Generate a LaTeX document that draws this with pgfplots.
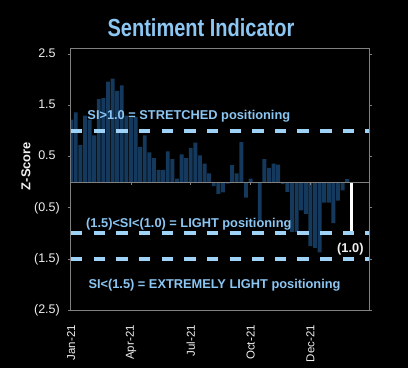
\documentclass[border=0pt]{standalone}
\usepackage{pgfplots}
\pgfplotsset{compat=1.18}
\usepackage{fontspec}
\setmainfont{Liberation Sans}
\newfontfamily\titlefont[FakeStretch=0.81]{Liberation Sans}
\definecolor{lblue}{RGB}{158,210,246}
\definecolor{tblue}{RGB}{140,198,242}
\definecolor{barblue}{RGB}{20,57,92}
\definecolor{framegray}{RGB}{128,128,128}
\definecolor{lbl}{RGB}{240,240,240}

\pgfplotstableread{
i v
0 1.22
1 1.36
2 0.72
3 1.30
4 1.22
5 0.91
6 1.62
7 1.64
8 1.96
9 2.02
10 1.78
11 1.89
12 1.30
13 1.26
14 1.27
15 0.69
16 0.91
17 0.58
18 0.47
19 0.24
20 0.24
21 0.60
22 0.45
23 0.07
24 0.54
25 0.47
26 0.67
27 0.77
28 0.52
29 0.36
30 0.17
31 -0.08
32 -0.23
33 -0.20
34 -0.03
35 0.33
36 0.17
37 0.78
38 -0.30
39 0.07
40 -0.02
41 -0.75
42 0.45
43 0.28
44 0.36
45 0.34
46 -0.04
47 -0.19
48 -0.97
49 -0.97
50 -0.55
51 -0.62
52 -1.25
53 -1.28
54 -1.37
55 -0.40
56 -0.40
57 -0.80
58 -0.36
59 -0.16
60 0.06
}\sidata

\begin{document}
\begin{tikzpicture}[x=1pt,y=1pt]
\fill[black] (0pt,0pt) rectangle (408pt,368pt);
\useasboundingbox (0pt,0pt) rectangle (408pt,368pt);
\begin{axis}[
  at={(71pt,57.7pt)}, anchor=south west,
  scale only axis, width=298pt, height=262pt,
  xmin=-0.04, xmax=64.74, ymin=-2.5, ymax=2.611,
  axis line style={framegray, line width=1pt},
  tick align=outside,
  major tick length=3pt,
  xtick={0,13,26,39,52},
  xticklabels={Jan-21,Apr-21,Jul-21,Oct-21,Dec-21},
  xtick style={draw=none},
  xticklabel style={rotate=90, anchor=east, inner sep=0pt, text=lbl, font=\fontsize{11.5}{13}\selectfont},
  xticklabel shift=11.7pt,
  ytick={-2.5,-1.5,-0.5,0.5,1.5,2.5},
  yticklabels={{(2.5)},{(1.5)},{(0.5)},{0.5\phantom{)}},{1.5\phantom{)}},{2.5\phantom{)}}},
  ytick style={framegray, line width=0.8pt},
  yticklabel style={anchor=east, inner sep=0pt, text=lbl, font=\fontsize{12.5}{14}\selectfont},
  yticklabel shift=8pt,
  /pgf/number format/assume math mode=true,
]
\addplot[ybar, bar width=0.85, fill=barblue, draw=none] table[x=i, y=v] {\sidata};
\addplot[ybar, bar width=0.6, fill=white, draw=none] coordinates {(61,-1.0)};
\draw[framegray, line width=1pt] (axis cs:-0.04,0) -- (axis cs:64.74,0);
\draw[framegray, line width=0.8pt] (axis cs:13,0) -- (axis cs:13,-0.06);
\draw[framegray, line width=0.8pt] (axis cs:26,0) -- (axis cs:26,-0.06);
\draw[framegray, line width=0.8pt] (axis cs:39,0) -- (axis cs:39,-0.06);
\draw[framegray, line width=0.8pt] (axis cs:52,0) -- (axis cs:52,-0.06);
\draw[lblue, line width=4pt, dash pattern=on 11.5pt off 11.15pt] (axis cs:-0.04,1) -- (axis cs:64.74,1);
\draw[lblue, line width=4pt, dash pattern=on 11.5pt off 11.15pt] (axis cs:-0.04,-1) -- (axis cs:64.74,-1);
\draw[lblue, line width=4pt, dash pattern=on 11.5pt off 11.15pt] (axis cs:-0.04,-1.5) -- (axis cs:64.74,-1.5);
\end{axis}
\node[anchor=base, text=tblue, inner sep=0pt] at (201pt,332pt) {\titlefont\bfseries\fontsize{24.7}{28}\selectfont Sentiment Indicator};
\node[rotate=90, text=lbl, inner sep=0pt] at (26pt,202pt) {\bfseries\fontsize{12.9}{14}\selectfont Z-Score};
\node[anchor=base west, text=tblue, inner sep=0pt] at (87.3pt,248.7pt) {\bfseries\fontsize{12.8}{14}\selectfont SI>1.0 = STRETCHED positioning};
\node[anchor=base west, text=tblue, inner sep=0pt] at (86pt,140.1pt) {\bfseries\fontsize{12.8}{14}\selectfont (1.5)<SI<(1.0) = LIGHT positioning};
\node[anchor=base west, text=tblue, inner sep=0pt] at (88.3pt,80pt) {\bfseries\fontsize{12.8}{14}\selectfont SI<(1.5) = EXTREMELY LIGHT positioning};
\node[anchor=base west, text=lbl, inner sep=0pt] at (337pt,115.4pt) {\bfseries\fontsize{12.8}{14}\selectfont (1.0)};
\end{tikzpicture}
\end{document}
